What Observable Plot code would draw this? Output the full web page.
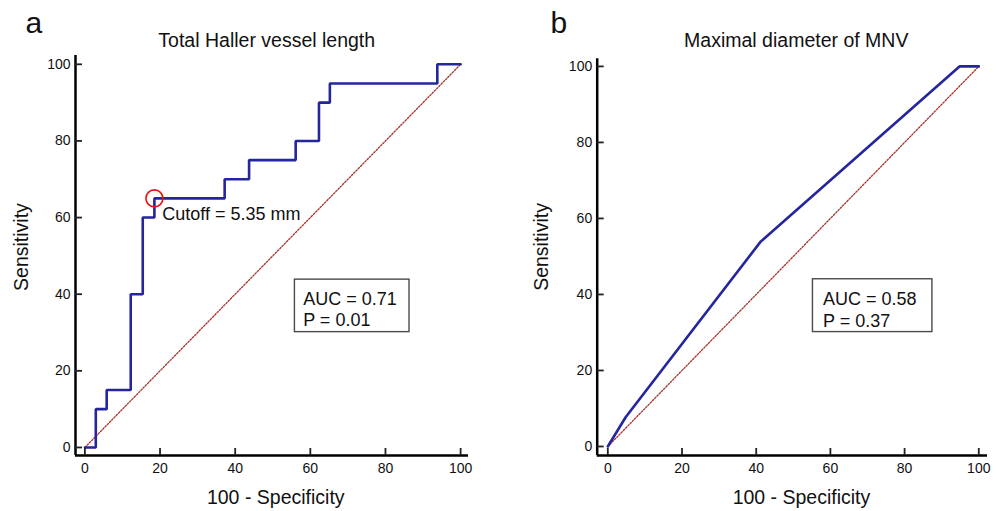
<!DOCTYPE html>
<html>
<head>
<meta charset="utf-8">
<script src="https://cdn.jsdelivr.net/npm/d3@7"></script>
<script src="https://cdn.jsdelivr.net/npm/@observablehq/plot@0.6"></script>
<style>
  html, body { margin: 0; padding: 0; background: #fff; }
  #wrap { display: flex; width: 997px; height: 511px; }
  #wrap svg { display: block; }
</style>
</head>
<body>
<div id="wrap"></div>
<script>
// ---- data ----
const xTicks = [0, 20, 40, 60, 80, 100];
const yTicks = [0, 20, 40, 60, 80, 100];

// Panel a: Total Haller vessel length (ROC step points, 100-Specificity / Sensitivity)
const rocAx = [0, 2.9, 5.8, 12.2, 15.4, 18.5, 37.2, 43.7, 56.1, 62.3, 65.2, 93.8, 100];
const rocAy = [0, 10, 15, 40, 60, 65, 70, 75, 80, 90, 95, 100, 100];
const cutoffIndexA = 5;

// Panel b: Maximal diameter of MNV
const rocBx = [0, 4.8, 41.2, 94.8, 100];
const rocBy = [0, 7.7, 53.9, 100, 100];

const diagX = [0, 100];
const diagY = [0, 100];

const titles = ["Total Haller vessel length", "Maximal diameter of MNV"];
const panelLabels = ["a", "b"];
const statsA = ["AUC = 0.71", "P = 0.01"];
const statsB = ["AUC = 0.58", "P = 0.37"];
const cutoffLabel = "Cutoff = 5.35 mm";
const xLabel = "100 - Specificity";
const yLabel = "Sensitivity";

const FONT = "'Liberation Sans', Arial, Helvetica, sans-serif";
const BLUE = "#25259c";

function panel(o) {
  const pts = o.xs.map((x, i) => ({x, y: o.ys[i]}));
  const diag = diagX.map((x, i) => ({x, y: diagY[i]}));
  const fw = o.width - o.ml - o.mr;
  const fh = o.height - o.mt - o.mb;
  const marks = [
    // dotted reference diagonal
    Plot.line(diag, {x: "x", y: "y", stroke: "#a8322c", strokeWidth: 1.3, strokeDasharray: "1.6,1.6"}),
    // ROC curve
    Plot.line(pts, {x: "x", y: "y", stroke: BLUE, strokeWidth: 2.6, curve: o.curve, strokeLinejoin: "miter"}),
    // axes lines
    Plot.ruleX([o.xd[0]], {stroke: "#000", strokeWidth: 2.5}),
    Plot.ruleY([o.yd[0]], {stroke: "#000", strokeWidth: 2.5}),
    // inward ticks
    Plot.tickY(yTicks, {y: d => d, insetRight: fw - 7, stroke: "#222", strokeWidth: 1.8}),
    Plot.tickX(xTicks, {x: d => d, insetTop: fh - 7, stroke: "#222", strokeWidth: 1.8}),
    // tick labels
    Plot.text(xTicks, {x: d => d, text: d => String(d), frameAnchor: "bottom", dy: 8, textAnchor: "middle", lineAnchor: "top", fontSize: 14, fill: "#111"}),
    Plot.text(yTicks, {y: d => d, text: d => String(d), frameAnchor: "left", dx: -5, textAnchor: "end", lineAnchor: "middle", fontSize: 14, fill: "#111"}),
    // stats box
    Plot.rect([0], {x1: o.box[0], x2: o.box[1], y1: o.box[2], y2: o.box[3], fill: "white", stroke: "#4a4a4a", strokeWidth: 1.4}),
    Plot.text([o.stats.join("\n")], {x: o.statsX, y: o.statsY, text: d => d, textAnchor: "start", lineAnchor: "top", lineHeight: 1.2, fontSize: 18, fill: "#111"}),
    // title
    Plot.text([o.title], {x: o.titleX, frameAnchor: "top", dy: o.titleDy, textAnchor: "middle", lineAnchor: "bottom", fontSize: 19.5, fill: "#111"}),
    // panel label
    Plot.text([o.label], {frameAnchor: "top-left", dx: o.labelDx, dy: o.labelDy, textAnchor: "start", lineAnchor: "bottom", fontSize: 30, fill: "#111"}),
    // axis titles
    Plot.text([xLabel], {x: o.xlabX, frameAnchor: "bottom", dy: 48, textAnchor: "middle", lineAnchor: "bottom", fontSize: 19.5, fill: "#111"}),
    Plot.text([yLabel], {y: o.ylabY, frameAnchor: "left", dx: o.ylabDx, rotate: -90, textAnchor: "middle", lineAnchor: "middle", fontSize: 19.5, fill: "#111"})
  ];
  if (o.cutoff != null) {
    const c = pts[o.cutoff];
    marks.push(Plot.dot([c], {x: "x", y: "y", r: 8.5, stroke: "#ee1111", strokeWidth: 1.6, fill: "none"}));
    marks.push(Plot.text([cutoffLabel], {x: o.cutX, y: o.cutY, textAnchor: "start", lineAnchor: "bottom", fontSize: 18, fill: "#111"}));
  }
  return Plot.plot({
    width: o.width, height: o.height,
    marginLeft: o.ml, marginRight: o.mr, marginTop: o.mt, marginBottom: o.mb,
    x: {domain: o.xd, axis: null},
    y: {domain: o.yd, axis: null},
    style: {fontFamily: FONT, fontSize: "14px", background: "white", color: "#111", overflow: "visible"},
    marks
  });
}

const wrap = document.getElementById("wrap");
wrap.appendChild(panel({
  xs: rocAx, ys: rocAy, curve: "step-after", cutoff: cutoffIndexA,
  width: 498, height: 511, ml: 75, mr: 30, mt: 55, mb: 56,
  xd: [-2.5, 102.1], yd: [-2.1, 102.3],
  box: [55.9, 86.4, 30.1, 43.8], stats: statsA, statsX: 58.1, statsY: 41.3,
  title: titles[0], titleX: 48.4, titleDy: -9,
  label: panelLabels[0], labelDx: -50, labelDy: -23,
  xlabX: 50.8, ylabY: 52.3, ylabDx: -54,
  cutX: 20.6, cutY: 59.3
}));
wrap.appendChild(panel({
  xs: rocBx, ys: rocBy, curve: "linear", cutoff: null,
  width: 499, height: 511, ml: 98.7, mr: 10, mt: 58.3, mb: 56,
  xd: [-2.86, 102.35], yd: [-2.37, 102.0],
  box: [55.3, 87.5, 30.1, 44.0], stats: statsB, statsX: 58.0, statsY: 41.2,
  title: titles[1], titleX: 50.8, titleDy: -12.3,
  label: panelLabels[1], labelDx: -46.7, labelDy: -26.3,
  xlabX: 52.2, ylabY: 52.5, ylabDx: -55.7
}));
</script>
</body>
</html>
